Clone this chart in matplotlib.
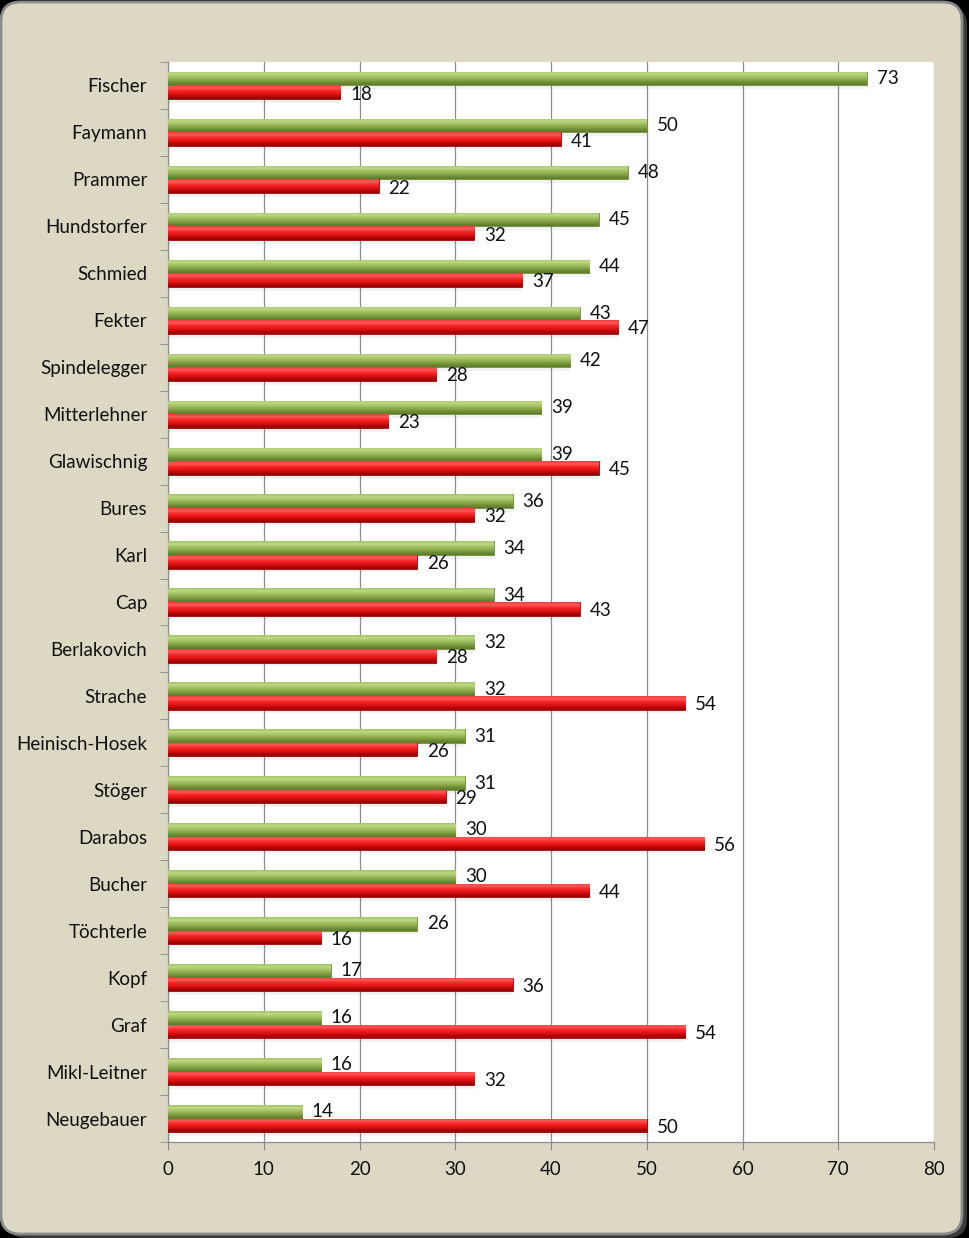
import matplotlib
matplotlib.use("Agg")
import matplotlib.pyplot as plt
import numpy as np
from matplotlib.patches import FancyBboxPatch
from matplotlib.colors import LinearSegmentedColormap

names = ["Fischer", "Faymann", "Prammer", "Hundstorfer", "Schmied", "Fekter",
         "Spindelegger", "Mitterlehner", "Glawischnig", "Bures", "Karl", "Cap",
         "Berlakovich", "Strache", "Heinisch-Hosek", "Stöger", "Darabos",
         "Bucher", "Töchterle", "Kopf", "Graf", "Mikl-Leitner", "Neugebauer"]
green_vals = [73, 50, 48, 45, 44, 43, 42, 39, 39, 36, 34, 34, 32, 32, 31, 31,
              30, 30, 26, 17, 16, 16, 14]
red_vals = [18, 41, 22, 32, 37, 47, 28, 23, 45, 32, 26, 43, 28, 54, 26, 29,
            56, 44, 16, 36, 54, 32, 50]
xticks = [0, 10, 20, 30, 40, 50, 60, 70, 80]

plt.rcParams['font.family'] = ['Lato', 'DejaVu Sans']

W, H = 969, 1238
fig = plt.figure(figsize=(W / 100, H / 100), dpi=100)
fig.patch.set_facecolor("black")

# frame
shadow = FancyBboxPatch((6 / W, 0 / H), (W - 8) / W, (H - 6) / H,
                        boxstyle="round,pad=0,rounding_size=0.02",
                        transform=fig.transFigure, facecolor="#3a3a3a",
                        edgecolor="none", zorder=0, mutation_aspect=W / H)
fig.patches.append(shadow)
frame = FancyBboxPatch((1 / W, 4 / H), (W - 8) / W, (H - 6) / H,
                       boxstyle="round,pad=0,rounding_size=0.02",
                       transform=fig.transFigure, facecolor="#ddd8c4",
                       edgecolor="#8a8a8a", linewidth=2, zorder=1,
                       mutation_aspect=W / H)
fig.patches.append(frame)

ax = fig.add_axes([168 / W, 1 - 1142 / H, (934 - 168) / W, (1142 - 62) / H])
ax.set_facecolor("white")
ax.set_zorder(2)

n = len(names)
y = np.arange(n)
bh = 0.29

green_cmap = LinearSegmentedColormap.from_list(
    "g", ["#a4c266", "#bdd884", "#a6c365", "#8eac4d", "#728f38", "#5d7a2a"])
red_cmap = LinearSegmentedColormap.from_list(
    "r", ["#f03a3a", "#ff5a5a", "#f82828", "#e51616", "#bc0a0a", "#900404"])

gbars = ax.barh(y - bh / 2, green_vals, height=bh, color="#9bbb59",
                edgecolor="#6e8a35", linewidth=0.6, zorder=3)
rbars = ax.barh(y + bh / 2, red_vals, height=bh, color="#e41c1c",
                edgecolor="#9a0a0a", linewidth=0.6, zorder=3)

grad = np.linspace(0, 1, 64).reshape(-1, 1)
for bars, cmap in ((gbars, green_cmap), (rbars, red_cmap)):
    for b in bars:
        x0, y0 = b.get_x(), b.get_y()
        w, h = b.get_width(), b.get_height()
        # row 0 (light) at y0, which is the visual top on the inverted axis
        im = ax.imshow(grad, cmap=cmap, aspect="auto",
                       extent=[x0, x0 + w, y0 + h, y0], origin="upper",
                       zorder=3.5, interpolation="bilinear")
        im.set_clip_path(b)
        # soft shadow below
        ax.barh(y0 + h + 0.02, w, height=0.06, left=x0, align="edge",
                color="#000000", alpha=0.05, zorder=2.5, linewidth=0)

for b, v in zip(gbars, green_vals):
    ax.annotate(str(v), (v, b.get_y() + b.get_height() / 2),
                xytext=(7, 0), textcoords="offset points",
                va="center", ha="left", fontsize=13.5, color="#111111",
                zorder=5)
for b, v in zip(rbars, red_vals):
    ax.annotate(str(v), (v, b.get_y() + b.get_height() / 2 + 0.04),
                xytext=(7, 0), textcoords="offset points",
                va="center", ha="left", fontsize=13.5, color="#111111",
                zorder=5)

ax.set_xlim(0, 80)
ax.set_ylim(n - 0.5, -0.5)
ax.set_xticks(xticks)
ax.set_xticklabels([str(t) for t in xticks], fontsize=13.5, color="#111111")
ax.set_yticks(y)
ax.set_yticklabels(names, fontsize=13.5, color="#111111")
ax.set_yticks(np.arange(-0.5, n, 1), minor=True)
ax.tick_params(axis="y", which="major", length=0, pad=15)
ax.tick_params(axis="y", which="minor", length=6, color="#888888",
               direction="out")
ax.tick_params(axis="x", length=6, color="#888888", direction="out", pad=8)
ax.grid(axis="x", color="#8c8c8c", linewidth=0.9, zorder=1)
ax.set_axisbelow(True)
for s in ["top", "right"]:
    ax.spines[s].set_visible(False)
for s in ["left", "bottom"]:
    ax.spines[s].set_color("#8c8c8c")
    ax.spines[s].set_linewidth(0.9)

fig.savefig("out.png", dpi=100, facecolor=fig.get_facecolor())
